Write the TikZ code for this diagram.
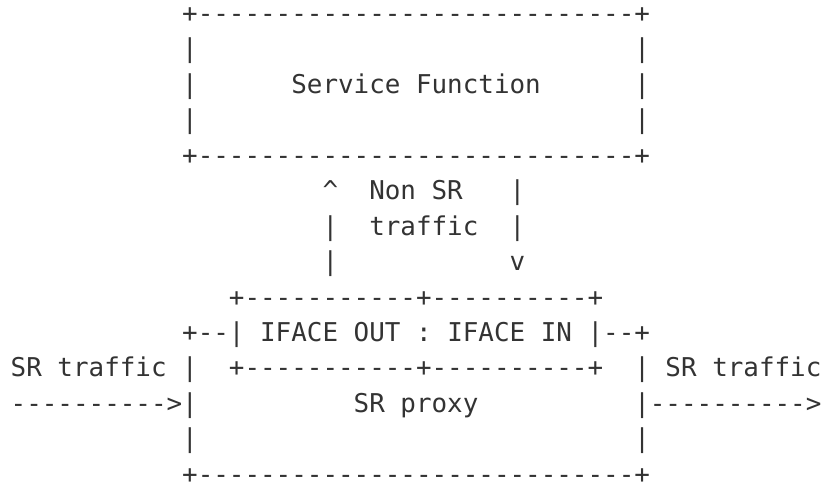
\documentclass[tikz,border=0pt]{standalone}
\usepackage{fontspec}
\setmonofont{DejaVu Sans Mono}
\definecolor{ink}{HTML}{333333}
\tikzset{
  ascii/.style={anchor=base west, inner sep=0pt, outer sep=0pt, text=ink,
    font=\ttfamily\fontsize{12.95pt}{15pt}\selectfont},
  flat/.style={text depth=0pt}
}
\begin{document}
\begin{tikzpicture}
\useasboundingbox (0,0) rectangle (412pt,-243.5pt);
% character grid: x = column, y = row (downwards), origin at first baseline
\begin{scope}[shift={(5.35pt,-11.25pt)}, x=7.795pt, y=-17.72pt]
  % Service Function box
  \node[ascii] (sfTop)   at (11,0) {+----------------------------+};
  \node[ascii] (sfL1)    at (11,1) {|};
  \node[ascii] (sfR1)    at (40,1) {|};
  \node[ascii] (sfL2)    at (11,2) {|};
  \node[ascii] (sfName)  at (18,2) {Service Function};
  \node[ascii] (sfR2)    at (40,2) {|};
  \node[ascii] (sfL3)    at (11,3) {|};
  \node[ascii] (sfR3)    at (40,3) {|};
  \node[ascii] (sfBot)   at (11,4) {+----------------------------+};
  % non-SR traffic between proxy and service function
  \node[ascii] (upHead)  at (20,5) {\textasciicircum};
  \node[ascii] (nsr1)    at (23,5) {Non SR};
  \node[ascii] (dn1)     at (32,5) {|};
  \node[ascii] (up1)     at (20,6) {|};
  \node[ascii] (nsr2)    at (23,6) {traffic};
  \node[ascii] (dn2)     at (32,6) {|};
  \node[ascii] (up2)     at (20,7) {|};
  \node[ascii] (dnHead)  at (32,7) {v};
  % interfaces
  \node[ascii] (ifTop)   at (14,8) {+-----------+----------+};
  \node[ascii] (ifRow)   at (11,9) {+--| IFACE OUT : IFACE IN |--+};
  \node[ascii] (inLbl)   at (0,10) {SR traffic};
  \node[ascii] (pxL1)    at (11,10) {|};
  \node[ascii] (ifBot)   at (14,10) {+-----------+----------+};
  \node[ascii] (pxR1)    at (40,10) {|};
  \node[ascii] (outLbl)  at (42,10) {SR traffic};
  % SR proxy box with incoming and outgoing traffic
  \node[ascii] (inArrow) at (0,11) {---------->|};
  \node[ascii] (pxName)  at (22,11) {SR proxy};
  \node[ascii] (outArrow) at (40,11) {|---------->};
  \node[ascii] (pxL2)    at (11,12) {|};
  \node[ascii] (pxR2)    at (40,12) {|};
  \node[ascii,flat] (pxBot) at (11,13) {+----------------------------+};
\end{scope}
\end{tikzpicture}
\end{document}
